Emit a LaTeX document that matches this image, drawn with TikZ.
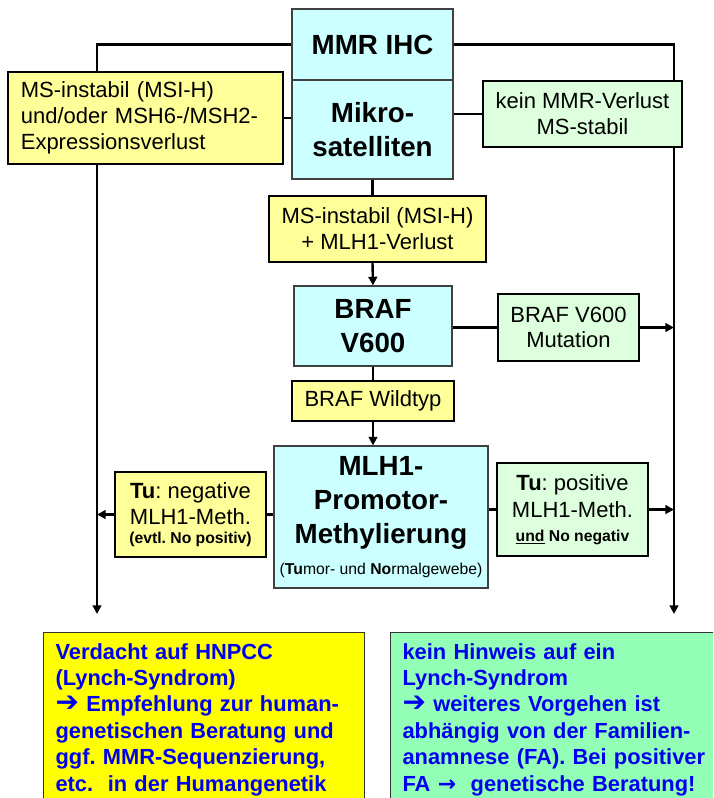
\documentclass[tikz,border=0pt]{standalone}
\usepackage{fontspec}
\setmainfont{Liberation Sans}
\newfontfamily\arrowfont{DejaVu Sans}
\usetikzlibrary{arrows.meta}

\definecolor{testcyan}{HTML}{CCFFFF}
\definecolor{palegelb}{HTML}{FFFF99}
\definecolor{palegruen}{HTML}{DDFFDD}
\definecolor{gelb}{HTML}{FFFF00}
\definecolor{gruen}{HTML}{93FFB6}
\definecolor{textblau}{HTML}{0000F0}

\newcommand{\normaltxt}{\fontsize{16.5}{19.3}\selectfont}
\newcommand{\titeltxt}{\fontsize{20.8}{25.5}\selectfont\bfseries}
\newcommand{\kleintxt}{\fontsize{11.8}{14}\selectfont}
\newcommand{\ergtxt}{\fontsize{16.4}{19.8}\selectfont\bfseries}
\newcommand{\pfeilzeichen}{{\arrowfont\bfseries\fontsize{21}{19.8}\selectfont ➔}}
\frenchspacing

\begin{document}
\begin{tikzpicture}[x=0.75pt, y=-0.75pt,
    test/.style={draw=black!75, line width=0.8pt, fill=testcyan, align=center, font=\titeltxt, inner sep=0pt},
    befund/.style={draw, line width=1.3pt, align=center, font=\normaltxt, inner sep=0pt},
    gelbbox/.style={befund, fill=palegelb},
    gruenbox/.style={befund, fill=palegruen},
    ergebnis/.style={draw=black!80, line width=0.8pt, anchor=north west, align=left, text=textblau, font=\ergtxt, inner xsep=9pt, inner ysep=8pt},
    linie/.style={line width=1.8pt},
    pfeil/.style={linie, -{Triangle[length=6.5pt, width=6.5pt]}}]
    \clip (0, 0) rectangle (713, 798);

    \node [test, minimum width=120.75pt, minimum height=53.25pt] (mmr) at (372.5, 44.5) {MMR IHC};
    \node [test, minimum width=120.75pt, minimum height=74.25pt] (mikro) at (372.5, 129.5) {Mikro-\\satelliten};
    \node [gelbbox, minimum width=206.25pt, minimum height=69pt, text width=187pt, align=left] (msilinks) at (145.5, 118) {MS-instabil (MSI-H)\\und/oder MSH6-/MSH2-\\Expressionsverlust};
    \node [gruenbox, minimum width=149.25pt, minimum height=49.5pt] (stabil) at (582.5, 114) {kein MMR-Verlust\\MS-stabil};
    \node [gelbbox, minimum width=162.75pt, minimum height=49.5pt] (msimlh) at (377.5, 229) {MS-instabil (MSI-H)\\+ MLH1-Verlust};
    \node [test, minimum width=118.5pt, minimum height=60pt] (braf) at (373, 326) {BRAF\\V600};
    \node [gruenbox, minimum width=105.75pt, minimum height=50.25pt] (mutation) at (568.5, 327.5) {BRAF V600\\Mutation};
    \node [gelbbox, minimum width=121.5pt, minimum height=30pt] (wildtyp) at (373, 401) {BRAF Wildtyp};
    \node [test, minimum width=160.5pt, minimum height=106.5pt] (mlh) at (381, 517) {MLH1-\\Promotor-\\Methylierung\\[-2.5pt]{\kleintxt\mdseries (\textbf{Tu}mor- und \textbf{No}rmalgewebe)}};
    \node [gelbbox, minimum width=113.25pt, minimum height=63.75pt] (neg) at (190.5, 514.5) {\textbf{Tu}: negative\\[0.7pt]MLH1-Meth.\\[-5.3pt]{\kleintxt\bfseries (evtl. No positiv)}};
    \node [gruenbox, minimum width=113.25pt, minimum height=69.75pt] (pos) at (572.5, 509.5) {\textbf{Tu}: positive\\[0.7pt]MLH1-Meth.\\[-1.5pt]{\kleintxt\bfseries \underline{und} No negativ}};
    \node [ergebnis, fill=gelb, text width=222.75pt] (verdacht) at (43, 632) {Verdacht auf HNPCC\\(Lynch-Syndrom)\\\pfeilzeichen{} Empfehlung zur human-\\genetischen Beratung und\\ggf. MMR-Sequenzierung,\\etc.\ \ in der Humangenetik};
    \node [ergebnis, fill=gruen, text width=235pt] (hinweis) at (390, 632) {kein Hinweis auf ein\\Lynch-Syndrom\\\pfeilzeichen{} weiteres Vorgehen ist\\abhängig von der Familien-\\anamnese (FA). Bei positiver\\FA {\arrowfont\bfseries →}\ \ genetische Beratung!};

    \coordinate (ltop) at (97, 44.5);
    \coordinate (rtop) at (674, 44.5);
    \coordinate (lend) at (97, 614);
    \coordinate (rend) at (674, 614);

    \draw [linie] (mmr.west) -- (ltop) -- (ltop |- msilinks.north);
    \draw [linie] (mmr.east) -- (rtop) -- (rtop |- stabil.north);
    \draw [pfeil] (ltop |- msilinks.south) -- (lend);
    \draw [pfeil] (rtop |- stabil.south) -- (rend);
    \draw [linie] (msilinks.east) -- (msilinks.east -| mikro.west);
    \draw [linie] (stabil.west) -- (stabil.west -| mikro.east);
    \draw [linie] (mikro.south) -- (mikro.south |- msimlh.north);
    \draw [pfeil] (mikro.south |- msimlh.south) -- (braf.north);
    \draw [linie] (mutation.west -| braf.east) -- (mutation.west);
    \draw [pfeil] (mutation.east) -- (mutation.east -| rend);
    \draw [linie] (braf.south) -- (wildtyp.north);
    \draw [pfeil] (wildtyp.south) -- (wildtyp.south |- mlh.north);
    \draw [linie] (neg.east) -- (neg.east -| mlh.west);
    \draw [pfeil] (neg.west) -- (neg.west -| lend);
    \draw [linie] (pos.west -| mlh.east) -- (pos.west);
    \draw [pfeil] (pos.east) -- (pos.east -| rend);
  \end{tikzpicture}
\end{document}
